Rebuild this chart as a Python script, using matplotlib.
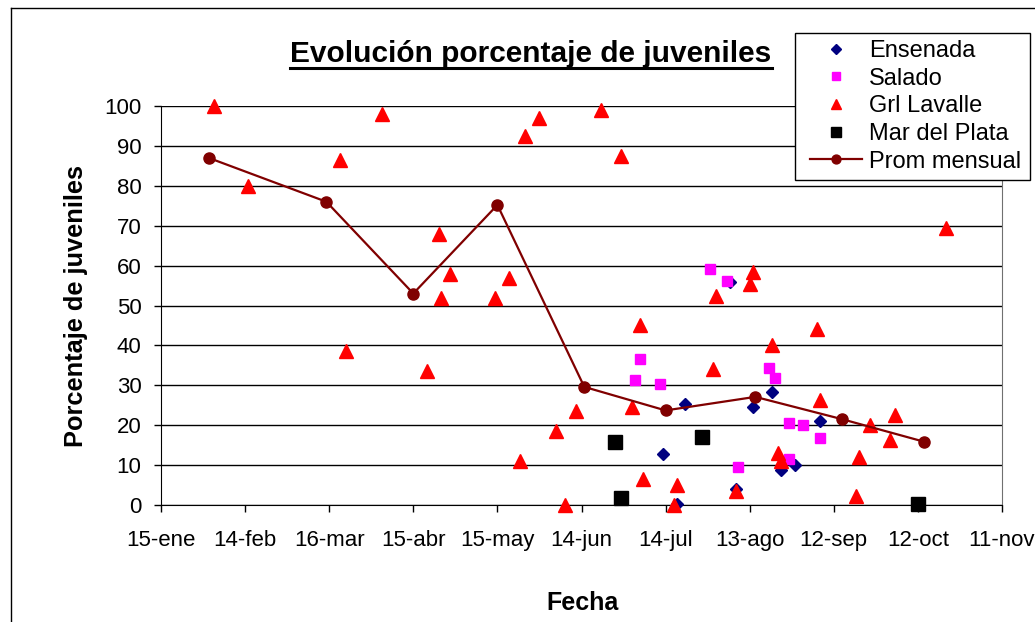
import matplotlib
matplotlib.use('Agg')
import matplotlib.pyplot as plt
from matplotlib.lines import Line2D
from matplotlib.patches import Rectangle

plt.rcParams['font.family'] = ['Liberation Sans', 'DejaVu Sans']

# dia del año (15 = 15-ene), porcentaje de juveniles
ens_dia = [194, 199, 202, 218, 220, 226, 233, 236, 241, 250]
ens_pct = [12.8, 0.2, 25.4, 55.8, 4.0, 24.5, 28.2, 8.8, 9.9, 21.1]

sal_dia = [184, 186, 193, 211, 217, 221, 232, 234, 239, 244, 239, 250]
sal_pct = [31.3, 36.6, 30.4, 59.1, 56.2, 9.6, 34.3, 31.9, 20.5, 20.1, 11.5, 16.7]

grl_dia = [34, 46, 79, 81, 94, 110, 114, 115, 118, 134, 139, 143, 145, 150,
           156, 159, 163, 172, 179, 183, 186, 187, 198, 199, 212, 213, 220,
           226, 225, 233, 235, 236, 249, 250, 263, 264, 268, 275, 277, 295]
grl_pct = [100, 80, 86.5, 38.5, 98, 33.5, 68, 52, 58, 52, 57, 11, 92.5, 97,
           18.5, 0, 23.5, 99, 87.5, 24.5, 45, 6.5, 0, 5, 34, 52.5, 3.6,
           58.5, 55.5, 40, 13, 11, 44, 26.3, 2.3, 12, 20, 16.4, 22.6, 69.4]

mdp_dia = [177, 179, 208, 285]
mdp_pct = [15.9, 1.7, 17.1, 0.3]

prom_dia = [32, 74, 105, 135, 166, 195, 227, 258, 287]
prom_pct = [87, 76, 53, 75.2, 29.6, 23.7, 27.1, 21.5, 15.9]

xticks = [15, 45, 75, 105, 135, 165, 195, 225, 255, 285, 315]
xlabels = ['15-ene', '14-feb', '16-mar', '15-abr', '15-may', '14-jun',
           '14-jul', '13-ago', '12-sep', '12-oct', '11-nov']

W, H = 1035, 622
fig = plt.figure(figsize=(W / 100, H / 100), dpi=100)
ax = fig.add_axes([161 / W, 1 - 505 / H, (1002 - 161) / W, (505 - 106) / H])

ax.plot(ens_dia, ens_pct, ls='none', marker='D', ms=6.2, color='#000080',
        label='Ensenada', clip_on=False, zorder=3)
ax.plot(sal_dia, sal_pct, ls='none', marker='s', ms=7.8, color='#FF00FF',
        label='Salado', clip_on=False, zorder=4)
ax.plot(grl_dia, grl_pct, ls='none', marker='^', ms=9.8, color='#FF0000',
        label='Grl Lavalle', clip_on=False, zorder=5)
ax.plot(mdp_dia, mdp_pct, ls='none', marker='s', ms=9.8, color='black',
        label='Mar del Plata', clip_on=False, zorder=6)
ax.plot(prom_dia, prom_pct, ls='-', lw=1.6, marker='o', ms=8, color='#800000',
        label='Prom mensual', clip_on=False, zorder=7)

ax.set_xlim(15, 315)
ax.set_ylim(0, 100)
ax.set_xticks(xticks)
ax.set_xticklabels(xlabels)
ax.set_yticks(range(0, 101, 10))
ax.tick_params(axis='both', direction='out', length=5, width=1, labelsize=16,
               color='black')
ax.tick_params(axis='x', pad=13)
ax.tick_params(axis='y', pad=9)

ax.yaxis.grid(True, color='black', lw=1)
ax.set_axisbelow(True)
ax.spines['top'].set_visible(False)
ax.spines['right'].set_color('#707070')

fig.text(76 / W, 1 - 306 / H, 'Porcentaje de juveniles', rotation=90,
         ha='center', va='center', fontsize=18.3, fontweight='bold')
fig.text(582.5 / W, 1 - 603 / H, 'Fecha', ha='center', va='center',
         fontsize=18, fontweight='bold')
title = fig.text(531 / W, 1 - 62 / H, 'Evolución porcentaje de juveniles',
                 ha='center', va='baseline', fontsize=21.5, fontweight='bold')

handles, labels = ax.get_legend_handles_labels()
leg = fig.legend(handles, labels, loc='upper left',
                 bbox_to_anchor=(810 / W, 1 - 40 / H), frameon=False,
                 fontsize=17, borderpad=0, labelspacing=0.24, handlelength=2.2,
                 handletextpad=0.3, borderaxespad=0, markerscale=0.8)
leg.set_zorder(10)

# recuadro de la leyenda
fig.add_artist(Rectangle((795 / W, 1 - 180 / H), (1030 - 795) / W, 147 / H,
                         facecolor='white', edgecolor='black', lw=1, zorder=9))

# recuadro exterior del grafico
fig.add_artist(Line2D([11 / W, 11 / W], [0, 1 - 8 / H], color='black', lw=1))
fig.add_artist(Line2D([11 / W, 1], [1 - 8 / H, 1 - 8 / H], color='black', lw=1))

# subrayado del titulo
fig.canvas.draw()
bb = title.get_window_extent(fig.canvas.get_renderer())
fig.add_artist(Line2D([bb.x0 / W, bb.x1 / W], [1 - 68 / H, 1 - 68 / H],
                      color='black', lw=2.2))

fig.savefig('out.png', dpi=100)
